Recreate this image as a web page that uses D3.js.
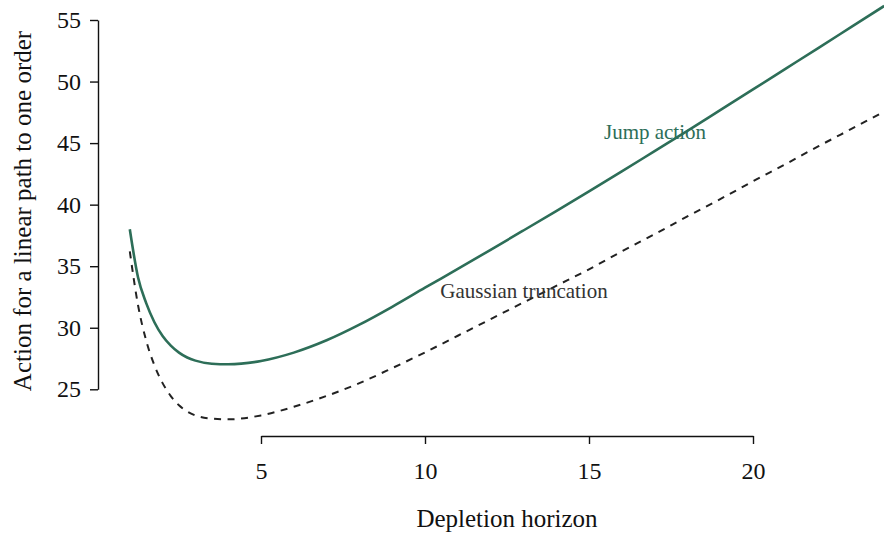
<!DOCTYPE html>
<html>
<head>
<meta charset="utf-8">
<script src="https://cdn.jsdelivr.net/npm/d3@7"></script>
<style>
  html, body { margin: 0; padding: 0; background: #fff; }
  svg { display: block; }
  svg text { font-family: 'Liberation Serif', 'Times New Roman', serif; }
</style>
</head>
<body>
<svg id="chart" width="884" height="533"></svg>
<script>
// Depletion horizon (x) values at which the actions were evaluated
const horizon = [1, 1.25, 1.5, 1.75, 2, 2.25, 2.5, 2.75, 3, 3.5, 4, 5, 6, 7, 8, 9, 10,
                 11, 12, 13, 14, 15, 16, 17, 18, 19, 20, 21, 22, 23, 24];

// Action of the jump model
const jumpAction = [38.0, 34.1, 32.0, 30.45, 29.33, 28.55, 27.98, 27.58, 27.33, 27.08,
                    27.03, 27.3, 27.98, 28.98, 30.25, 31.7, 33.25, 34.78, 36.33, 37.9,
                    39.48, 41.08, 42.7, 44.35, 46.0, 47.68, 49.36, 51.05, 52.74, 54.44,
                    56.14];

// Action under Gaussian truncation
const gaussAction = [36.2, 31.85, 28.95, 26.95, 25.5, 24.45, 23.7, 23.2, 22.88, 22.62,
                     22.56, 22.88, 23.58, 24.46, 25.5, 26.72, 28.0, 29.35, 30.7, 32.05,
                     33.4, 34.75, 36.2, 37.6, 39.05, 40.45, 41.9, 43.3, 44.75, 46.15,
                     47.55];

const xTicks = [5, 10, 15, 20];
const yTicks = [25, 30, 35, 40, 45, 50, 55];

const GREEN = "#2d6e58";
const FONT = "'Liberation Serif', 'Times New Roman', serif";

const svg = d3.select("#chart");
const W = 884, H = 533;

const x = d3.scaleLinear().domain([5, 20]).range([261, 753]);
const y = d3.scaleLinear().domain([25, 55]).range([389.3, 20]);

// clip the curves to the drawing surface
svg.append("defs").append("clipPath").attr("id", "clip")
  .append("rect").attr("x", 0).attr("y", 0).attr("width", W).attr("height", H);

const line = d3.line()
  .x(d => x(d[0]))
  .y(d => y(d[1]))
  .curve(d3.curveMonotoneX);

const g = svg.append("g").attr("clip-path", "url(#clip)");

g.append("path")
  .datum(horizon.map((t, i) => [t, gaussAction[i]]))
  .attr("d", line)
  .attr("fill", "none")
  .attr("stroke", "#222")
  .attr("stroke-width", 2)
  .attr("stroke-dasharray", "7,6.5");

g.append("path")
  .datum(horizon.map((t, i) => [t, jumpAction[i]]))
  .attr("d", line)
  .attr("fill", "none")
  .attr("stroke", GREEN)
  .attr("stroke-width", 2.6);

// y axis
const yAxis = svg.append("g")
  .attr("transform", "translate(98,0)")
  .call(d3.axisLeft(y).tickValues(yTicks).tickSize(8).tickSizeOuter(0).tickPadding(9));
yAxis.attr("font-family", FONT);
yAxis.select(".domain").attr("stroke", "#111").attr("stroke-width", 1.4);
yAxis.selectAll(".tick line").attr("stroke", "#111").attr("stroke-width", 1.4);
yAxis.selectAll(".tick text")
  .attr("font-family", FONT)
  .attr("font-size", 24)
  .attr("fill", "#111");

// x axis
const xAxis = svg.append("g")
  .attr("transform", "translate(0,436)")
  .call(d3.axisBottom(x).tickValues(xTicks).tickSize(8).tickSizeOuter(0).tickPadding(28));
xAxis.attr("font-family", FONT);
xAxis.select(".domain").attr("stroke", "#111").attr("stroke-width", 1.4);
xAxis.selectAll(".tick line").attr("stroke", "#111").attr("stroke-width", 1.4);
xAxis.selectAll(".tick text")
  .attr("font-family", FONT)
  .attr("font-size", 24)
  .attr("fill", "#111")
  .attr("dy", "0.3em");

// axis titles
svg.append("text")
  .attr("x", (x(5) + x(20)) / 2)
  .attr("y", 527)
  .attr("text-anchor", "middle")
  .attr("font-family", FONT)
  .attr("font-size", 25)
  .attr("fill", "#111")
  .text("Depletion horizon");

svg.append("text")
  .attr("transform", "translate(31,211) rotate(-90)")
  .attr("text-anchor", "middle")
  .attr("font-family", FONT)
  .attr("font-size", 25)
  .attr("fill", "#111")
  .text("Action for a linear path to one order");

// curve labels
svg.append("text")
  .attr("x", 655).attr("y", 139)
  .attr("text-anchor", "middle")
  .attr("font-family", FONT)
  .attr("font-size", 21)
  .attr("fill", GREEN)
  .text("Jump action");

svg.append("text")
  .attr("x", 524).attr("y", 298)
  .attr("text-anchor", "middle")
  .attr("font-family", FONT)
  .attr("font-size", 21)
  .attr("fill", "#333")
  .text("Gaussian truncation");
</script>
</body>
</html>
